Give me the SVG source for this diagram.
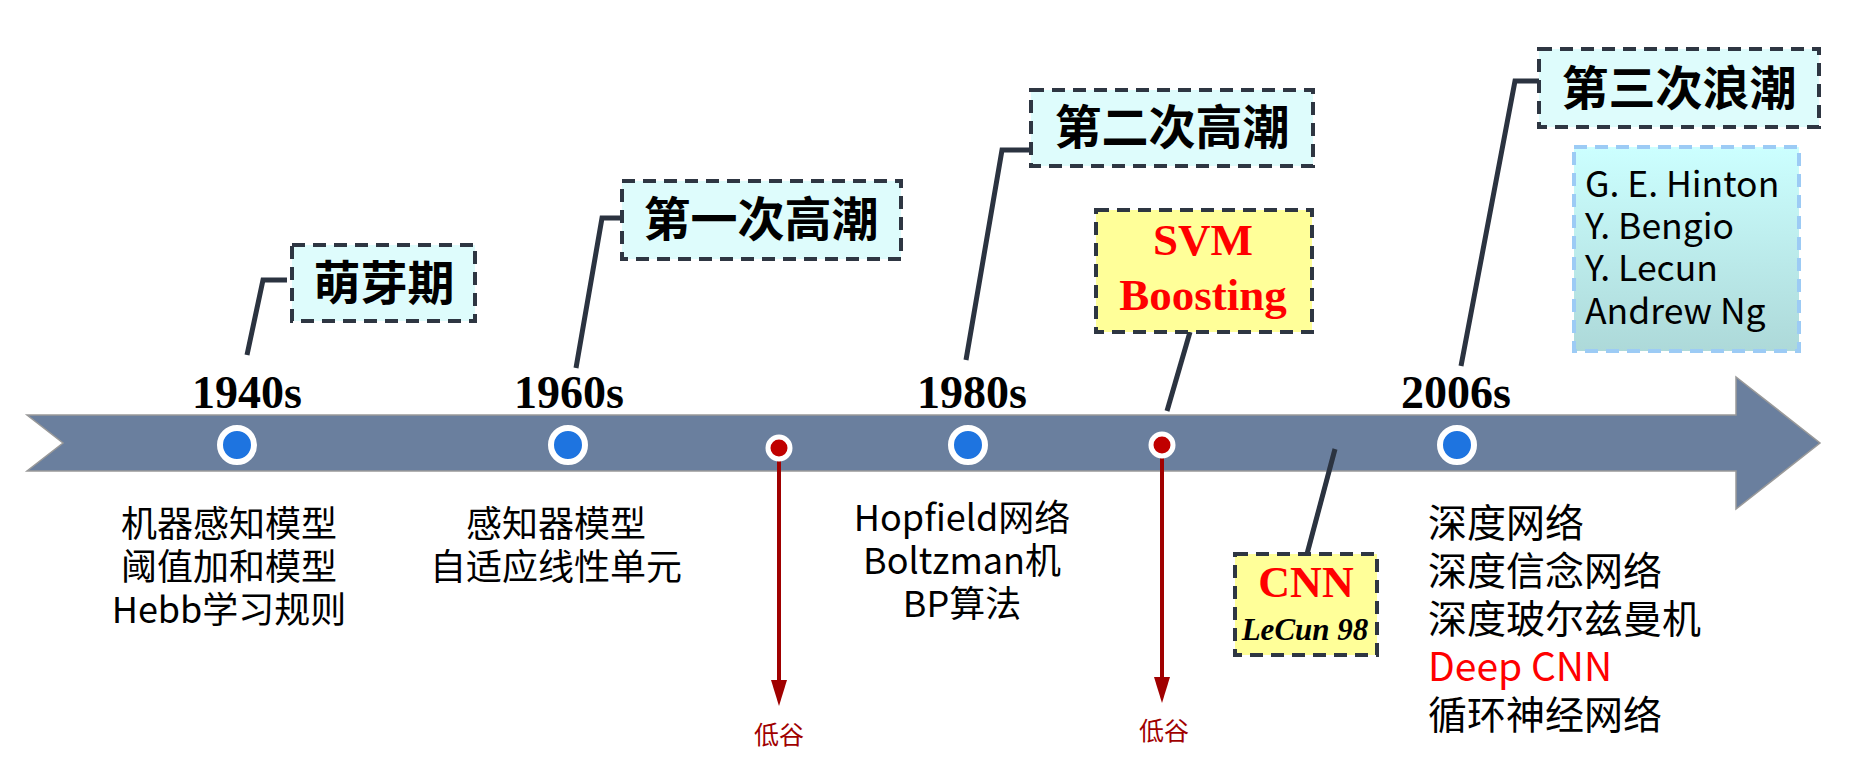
<svg xmlns="http://www.w3.org/2000/svg" width="1851" height="772" viewBox="0 0 1851 772">
<style>
.year{font-family:"Liberation Serif","Times New Roman",serif;font-weight:bold;font-size:46px;fill:#000;text-anchor:middle}
.head{font-family:"Noto Sans CJK SC",sans-serif;font-weight:bold;font-size:47px;fill:#000;text-anchor:middle}
.body{font-family:"Noto Sans CJK SC",sans-serif;font-size:36px;fill:#000;text-anchor:middle}
.body2{font-family:"Noto Sans CJK SC",sans-serif;font-size:39px;fill:#000}
.box{fill:#DEFCFC;stroke:#2E3642;stroke-width:4;stroke-dasharray:13 8}
.ybox{fill:#FFFF99;stroke:#2E3642;stroke-width:4;stroke-dasharray:13 8}
.lead{fill:none;stroke:#2B3340;stroke-width:5}
.dot{fill:#1E74E0;stroke:#fff;stroke-width:6}
.rdot{fill:#C00000;stroke:#fff;stroke-width:5}
.low{stroke:#A00000;stroke-width:4}
.lowh{fill:#A00000}
.lowt{font-family:"Noto Sans CJK SC",sans-serif;font-size:25px;fill:#A00000;text-anchor:middle}
.red{font-family:"Liberation Serif","Times New Roman",serif;font-weight:bold;fill:#FF0000;text-anchor:middle}
.names{font-family:"Noto Sans CJK SC","Open Sans",sans-serif;font-size:35.5px;fill:#000}
</style>
<defs>
<linearGradient id="ng" x1="0" y1="0" x2="0" y2="1"><stop offset="0" stop-color="#CCFFFF"/><stop offset="1" stop-color="#ADD9D9"/></linearGradient>
</defs>

<g id="timeline">
<polygon points="27,415 1736,415 1736,377 1820,443 1736,509 1736,471 27,471 63,443" fill="#6A7F9E" stroke="#999" stroke-width="1.5"/>
</g>

<g id="connectors">
<polyline class="lead" points="247,355 263,280 287,280"/>
<polyline class="lead" points="576,368 602,218 622,218"/>
<polyline class="lead" points="966,360 1002,150 1031,150"/>
<line class="lead" x1="1190" y1="332" x2="1167" y2="411"/>
<line class="lead" x1="1335" y1="449" x2="1307" y2="554"/>
<polyline class="lead" points="1461,366 1515,81 1539,81"/>
<line class="low" x1="779" y1="458" x2="779" y2="684"/>
<polygon class="lowh" points="771,680 787,680 779,706"/>
<line class="low" x1="1162" y1="455" x2="1162" y2="681"/>
<polygon class="lowh" points="1154,677 1170,677 1162,703"/>
</g>

<g id="n1940">
<text class="year" x="247" y="408">1940s</text>
<circle class="dot" cx="237" cy="445" r="17"/>
<text class="body"><tspan x="229" y="537">机器感知模型</tspan><tspan x="229" y="580">阈值加和模型</tspan><tspan x="229" y="623">Hebb学习规则</tspan></text>
</g>

<g id="n1960">
<text class="year" x="569" y="408">1960s</text>
<circle class="dot" cx="568" cy="445" r="17"/>
<text class="body"><tspan x="556" y="537">感知器模型</tspan><tspan x="556" y="580">自适应线性单元</tspan></text>
</g>

<g id="low1">
<circle class="rdot" cx="779" cy="448" r="11"/>
<text class="lowt" x="779" y="744">低谷</text>
</g>

<g id="n1980">
<text class="year" x="972" y="408">1980s</text>
<circle class="dot" cx="968" cy="445" r="17"/>
<text class="body"><tspan x="962" y="531">Hopfield网络</tspan><tspan x="962" y="574">Boltzman机</tspan><tspan x="962" y="617">BP算法</tspan></text>
</g>

<g id="low2">
<circle class="rdot" cx="1162" cy="445" r="11"/>
<text class="lowt" x="1164" y="740">低谷</text>
</g>

<g id="n2006">
<text class="year" x="1456" y="408">2006s</text>
<circle class="dot" cx="1457" cy="445" r="17"/>
<text class="body2"><tspan x="1428" y="537">深度网络</tspan><tspan x="1428" y="585">深度信念网络</tspan><tspan x="1428" y="633">深度玻尔兹曼机</tspan><tspan x="1428" y="681" fill="#FF0000">Deep CNN</tspan><tspan x="1428" y="729">循环神经网络</tspan></text>
</g>

<g id="mengya">
<rect class="box" x="292" y="245" width="183" height="76"/>
<text class="head" x="384" y="300">萌芽期</text>
</g>

<g id="wave1">
<rect class="box" x="622" y="181" width="279" height="78"/>
<text class="head" x="761" y="236">第一次高潮</text>
</g>

<g id="wave2">
<rect class="box" x="1031" y="90" width="282" height="76"/>
<text class="head" x="1172" y="144">第二次高潮</text>
</g>

<g id="svm">
<rect class="ybox" x="1096" y="210" width="216" height="122"/>
<text class="red" x="1203" y="255" font-size="45">SVM</text>
<text class="red" x="1203" y="310" font-size="45">Boosting</text>
</g>

<g id="cnn">
<rect class="ybox" x="1235" y="554" width="142" height="101"/>
<text class="red" x="1306" y="597" font-size="44">CNN</text>
<text x="1305" y="640" font-family="Liberation Serif,serif" font-weight="bold" font-style="italic" font-size="31" text-anchor="middle" fill="#000">LeCun 98</text>
</g>

<g id="wave3">
<rect class="box" x="1539" y="49" width="280" height="78"/>
<text class="head" x="1679" y="105" font-size="48">第三次浪潮</text>
</g>

<g id="names">
<rect x="1574" y="147" width="225" height="204" fill="url(#ng)" stroke="#9CCBF5" stroke-width="4" stroke-dasharray="13 8"/>
<text class="names"><tspan x="1585" y="197">G. E. Hinton</tspan><tspan x="1585" y="239">Y. Bengio</tspan><tspan x="1585" y="281">Y. Lecun</tspan><tspan x="1585" y="324">Andrew Ng</tspan></text>
</g>
</svg>
